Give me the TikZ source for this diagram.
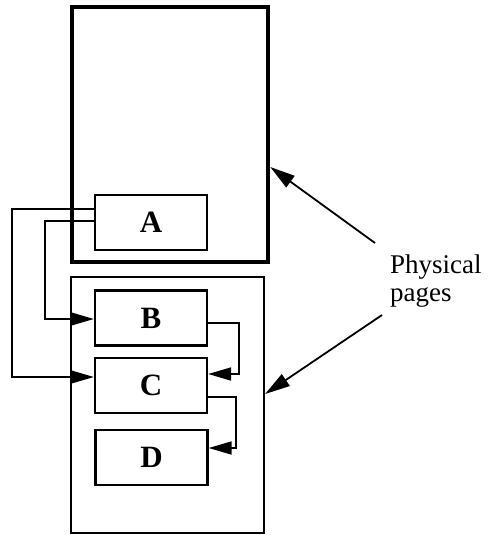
\documentclass[tikz,border=0pt]{standalone}
\usepackage{fontspec}
\setmainfont{Liberation Serif}
\usetikzlibrary{arrows.meta}
\begin{document}
\begin{tikzpicture}[x=1pt,y=-1pt,
  blk/.style={draw,line width=2.3pt,inner sep=0pt,minimum width=112pt,minimum height=55pt,font=\fontsize{31}{31}\selectfont\bfseries},
  conn/.style={line width=1.8pt,-{Triangle[length=23pt,width=13pt]}},
  lead/.style={line width=1.8pt,-{Triangle[length=25pt,width=14pt]}}]
\useasboundingbox (0,0) rectangle (490,535);
% pages
\node[draw,line width=4.5pt,inner sep=0pt,minimum width=196pt,minimum height=255pt] (top) at (170,134.5) {};
\node[draw,line width=2.2pt,inner sep=0pt,minimum width=193pt,minimum height=256pt] (bot) at (167.5,405) {};
% blocks
\node[blk,fill=white] (A) at (151,222.5) {A};
\node[blk] (B) at (151,318) {B};
\node[blk] (C) at (151,385.5) {C};
\node[blk] (D) at (151.5,457.5) {D};
% connectors
\draw[conn] (A.west |- 0,209) -- (12,209) -- (12,377) -- (C.west |- 0,377);
\draw[conn] (A.west |- 0,221) -- (45,221) -- (45,319) -- (B.west |- 0,319);
\draw[conn] (B.east |- 0,323) -- (239,323) -- (239,374) -- (C.east |- 0,374);
\draw[conn] (C.east |- 0,397) -- (236,397) -- (236,448) -- (D.east |- 0,448);
% label
\node[anchor=base west,inner sep=0pt,align=left,font=\fontsize{27}{28}\selectfont] (lbl) at (390,301) {Physical\\pages};
\coordinate (t1) at (375,243);
\coordinate (t2) at (382,315);
\draw[lead] (t1) -- (top.east |- 0,167);
\draw[lead] (t2) -- (bot.east |- 0,394);
\end{tikzpicture}
\end{document}
